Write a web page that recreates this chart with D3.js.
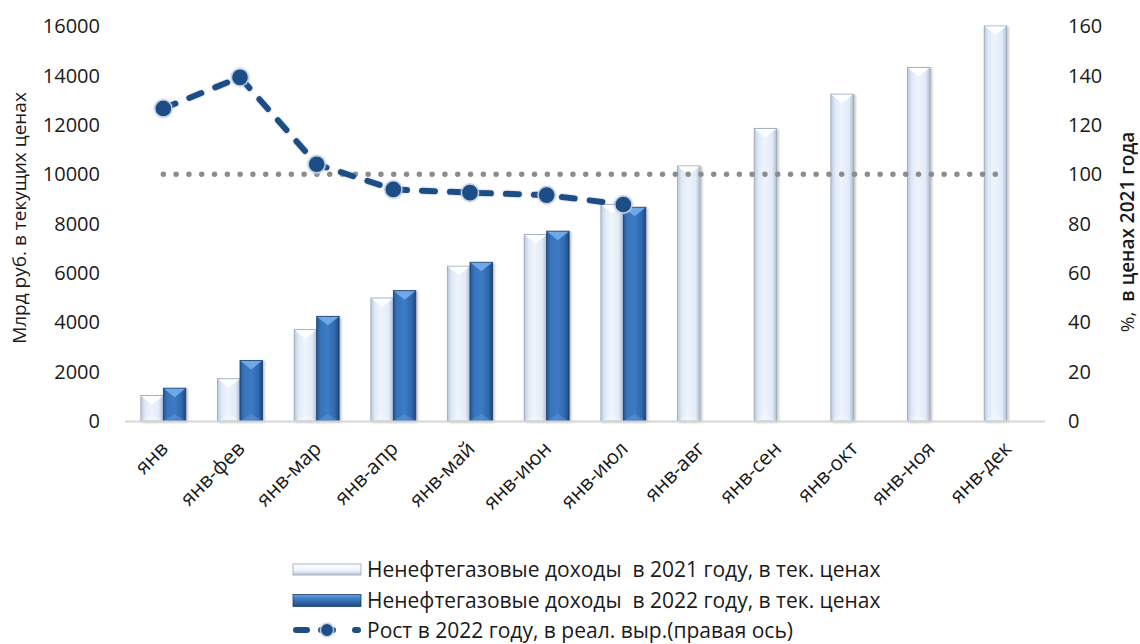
<!DOCTYPE html>
<html>
<head>
<meta charset="utf-8">
<script src="https://cdn.jsdelivr.net/npm/d3@7"></script>
<style>
  html, body { margin: 0; padding: 0; background: #ffffff; }
  svg { display: block; font-family: "Open Sans", "Noto Sans", sans-serif; }
  text { white-space: pre; }
</style>
</head>
<body>
<svg id="chart" width="1140" height="644"></svg>
<script>
// ---- data ----
const categories = ["янв", "янв-фев", "янв-мар", "янв-апр", "янв-май", "янв-июн", "янв-июл", "янв-авг", "янв-сен", "янв-окт", "янв-ноя", "янв-дек"];
const income2021 = [1030, 1710, 3700, 4980, 6270, 7550, 8770, 10330, 11850, 13240, 14320, 16000];
const income2022 = [1330, 2450, 4240, 5280, 6430, 7690, 8660, null, null, null, null, null];
const growth2022 = [126.6, 139.2, 104.0, 93.8, 92.5, 91.5, 87.7, null, null, null, null, null];
const reference100 = [100, 100, 100, 100, 100, 100, 100, 100, 100, 100, 100, 100];
const leftTicks = [0, 2000, 4000, 6000, 8000, 10000, 12000, 14000, 16000];
const rightTicks = [0, 20, 40, 60, 80, 100, 120, 140, 160];
const seriesNames = ["Ненефтегазовые доходы  в 2021 году, в тек. ценах", "Ненефтегазовые доходы  в 2022 году, в тек. ценах", "Рост в 2022 году, в реал. выр.(правая ось)"];
const leftTitle = "Млрд руб. в текущих ценах";
const rightTitlePrefix = "%,  ";
const rightTitleMain = "в ценах 2021 года";

// ---- layout ----
const plot = { left: 125, right: 1045, top: 26, bottom: 421 };
const svg = d3.select("#chart");

const x = d3.scaleBand().domain(categories).range([plot.left, plot.right]).paddingInner(0).paddingOuter(0);
const bw = x.bandwidth();
const xs = d3.scaleBand().domain(["2021", "2022"]).range([bw * 0.207, bw * 0.793]);
const yL = d3.scaleLinear().domain([0, 16000]).range([plot.bottom, plot.top]);
const yR = d3.scaleLinear().domain([0, 160]).range([plot.bottom, plot.top]);

// ---- defs ----
const defs = svg.append("defs");
function hGrad(id, stops) {
  const g = defs.append("linearGradient").attr("id", id).attr("x1", "0%").attr("x2", "100%").attr("y1", "0%").attr("y2", "0%");
  stops.forEach(s => g.append("stop").attr("offset", s[0]).attr("stop-color", s[1]));
}
hGrad("g2021", [["0%", "#b9c8dc"], ["18%", "#dfe9f6"], ["45%", "#eef4fc"], ["80%", "#e2ebf7"], ["100%", "#aebed3"]]);
hGrad("g2022", [["0%", "#285794"], ["18%", "#3874bc"], ["50%", "#3c7bc5"], ["82%", "#3067ab"], ["100%", "#1f467b"]]);
const vg1 = defs.append("linearGradient").attr("id", "legv2021").attr("x1", "0").attr("x2", "0").attr("y1", "0").attr("y2", "1");
vg1.append("stop").attr("offset", "0%").attr("stop-color", "#ffffff");
vg1.append("stop").attr("offset", "60%").attr("stop-color", "#eef3fa");
vg1.append("stop").attr("offset", "100%").attr("stop-color", "#b8c4d4");
const vg2 = defs.append("linearGradient").attr("id", "legv2022").attr("x1", "0").attr("x2", "0").attr("y1", "0").attr("y2", "1");
vg2.append("stop").attr("offset", "0%").attr("stop-color", "#6aa2e0");
vg2.append("stop").attr("offset", "35%").attr("stop-color", "#3d7cc4");
vg2.append("stop").attr("offset", "100%").attr("stop-color", "#1f4a84");

const sh = defs.append("filter").attr("id", "shadow").attr("x", "-20%").attr("y", "-5%").attr("width", "150%").attr("height", "115%");
sh.append("feDropShadow").attr("dx", 1.5).attr("dy", 1).attr("stdDeviation", 1.2).attr("flood-color", "#000").attr("flood-opacity", 0.28);

const glow = defs.append("filter").attr("id", "glow").attr("x", "-50%").attr("y", "-50%").attr("width", "200%").attr("height", "200%");
glow.append("feGaussianBlur").attr("in", "SourceAlpha").attr("stdDeviation", 1.2).attr("result", "b");
glow.append("feFlood").attr("flood-color", "#9fb8d8").attr("flood-opacity", 0.8);
glow.append("feComposite").attr("in2", "b").attr("operator", "in").attr("result", "g");
const gm = glow.append("feMerge");
gm.append("feMergeNode").attr("in", "g");
gm.append("feMergeNode").attr("in", "SourceGraphic");

// ---- bars ----
function drawBars(values, key, fill, stroke, bevel) {
  const g = svg.append("g").attr("class", "bars-" + key);
  categories.forEach((c, i) => {
    const v = values[i];
    if (v == null) return;
    const x0 = x(c) + xs(key);
    const w = xs.bandwidth();
    const yt = yL(v);
    const h = yL(0) - yt;
    g.append("rect").attr("x", x0).attr("y", yt).attr("width", w).attr("height", h)
      .attr("fill", `url(#${fill})`).attr("stroke", stroke).attr("stroke-width", 0.8).attr("filter", "url(#shadow)");
    g.append("path")
      .attr("d", `M${x0 + 0.6},${yt + 0.6} L${x0 + w - 0.6},${yt + 0.6} L${x0 + w / 2},${yt + 9} Z`)
      .attr("fill", bevel);
    g.append("path")
      .attr("d", `M${x0 + 0.6},${yL(0) - 0.6} L${x0 + w - 0.6},${yL(0) - 0.6} L${x0 + w / 2},${yL(0) - 7} Z`)
      .attr("fill", bevel).attr("opacity", 0.35);
  });
}
drawBars(income2021, "2021", "g2021", "#98a5b8", "#ffffff");
drawBars(income2022, "2022", "g2022", "#1c3f6c", "#6ea8e8");

// ---- axis line ----
svg.append("line").attr("x1", plot.left).attr("x2", plot.right).attr("y1", yL(0) + 0.5).attr("y2", yL(0) + 0.5)
  .attr("stroke", "#d6d6d6").attr("stroke-width", 2);

// ---- 100% dotted reference ----
const refLine = d3.line().x((d, i) => x(categories[i]) + bw / 2).y(d => yR(d));
svg.append("path").datum(reference100).attr("d", refLine).attr("fill", "none")
  .attr("stroke", "#8c8c8c").attr("stroke-width", 5.5).attr("stroke-linecap", "round").attr("stroke-dasharray", "0 12.8");

// ---- growth line ----
const gPts = growth2022.map((v, i) => ({ v, i })).filter(d => d.v != null);
const gLine = d3.line().x(d => x(categories[d.i]) + bw / 2).y(d => yR(d.v));
svg.append("path").datum(gPts).attr("d", gLine).attr("fill", "none")
  .attr("stroke", "#1f4e85").attr("stroke-width", 6).attr("stroke-linecap", "round")
  .attr("stroke-dasharray", "13 15").attr("filter", "url(#glow)");
svg.append("g").selectAll("circle").data(gPts).join("circle")
  .attr("cx", d => x(categories[d.i]) + bw / 2).attr("cy", d => yR(d.v)).attr("r", 8.5)
  .attr("fill", "#1f4e85").attr("stroke", "#c3d3e8").attr("stroke-width", 1.3).attr("filter", "url(#glow)");

// ---- tick labels ----
const txtColor = "#1a1a1a";
svg.append("g").selectAll("text").data(leftTicks).join("text")
  .attr("x", 100).attr("y", d => yL(d)).attr("dy", "0.36em").attr("text-anchor", "end")
  .attr("font-size", 20).attr("fill", txtColor).text(d => d);
svg.append("g").selectAll("text").data(rightTicks).join("text")
  .attr("x", 1068).attr("y", d => yR(d)).attr("dy", "0.36em").attr("text-anchor", "start")
  .attr("font-size", 20).attr("fill", txtColor).text(d => d);

// ---- category labels ----
svg.append("g").selectAll("text").data(categories).join("text")
  .attr("transform", d => `translate(${x(d) + bw / 2 + 6},${450}) rotate(-45)`)
  .attr("text-anchor", "end").attr("font-size", 20.5).attr("fill", txtColor).text(d => d);

// ---- axis titles ----
svg.append("text").attr("transform", "translate(26,218) rotate(-90)").attr("text-anchor", "middle")
  .attr("font-size", 19).attr("fill", txtColor).text(leftTitle);
const rt = svg.append("text").attr("transform", "translate(1134,232) rotate(-90)").attr("text-anchor", "middle")
  .attr("font-size", 19).attr("fill", txtColor);
rt.append("tspan").text(rightTitlePrefix);
rt.append("tspan").attr("font-weight", 600).text(rightTitleMain);

// ---- legend ----
const leg = svg.append("g");
const rowsY = [569.5, 600.5, 630];
leg.append("rect").attr("x", 293).attr("y", rowsY[0] - 5.5).attr("width", 68).attr("height", 11)
  .attr("fill", "url(#legv2021)").attr("stroke", "#9aa6b6").attr("stroke-width", 0.8);
leg.append("rect").attr("x", 293).attr("y", rowsY[1] - 6).attr("width", 68).attr("height", 12)
  .attr("fill", "url(#legv2022)").attr("stroke", "#1c3f6c").attr("stroke-width", 0.8);
leg.append("line").attr("x1", 296).attr("x2", 307).attr("y1", rowsY[2]).attr("y2", rowsY[2])
  .attr("stroke", "#1f4e85").attr("stroke-width", 6).attr("stroke-linecap", "round");
leg.append("line").attr("x1", 321).attr("x2", 333).attr("y1", rowsY[2]).attr("y2", rowsY[2])
  .attr("stroke", "#1f4e85").attr("stroke-width", 6).attr("stroke-linecap", "round");
leg.append("circle").attr("cx", 327).attr("cy", rowsY[2]).attr("r", 6.5)
  .attr("fill", "#1f4e85").attr("stroke", "#c3d3e8").attr("stroke-width", 1.2).attr("filter", "url(#glow)");
leg.append("line").attr("x1", 355).attr("x2", 358).attr("y1", rowsY[2]).attr("y2", rowsY[2])
  .attr("stroke", "#1f4e85").attr("stroke-width", 6).attr("stroke-linecap", "round");
leg.selectAll("text.lt").data(seriesNames).join("text").attr("class", "lt")
  .attr("x", 367).attr("y", (d, i) => rowsY[i]).attr("dy", "0.36em")
  .attr("font-size", 21).attr("fill", txtColor).text(d => d);
</script>
</body>
</html>
